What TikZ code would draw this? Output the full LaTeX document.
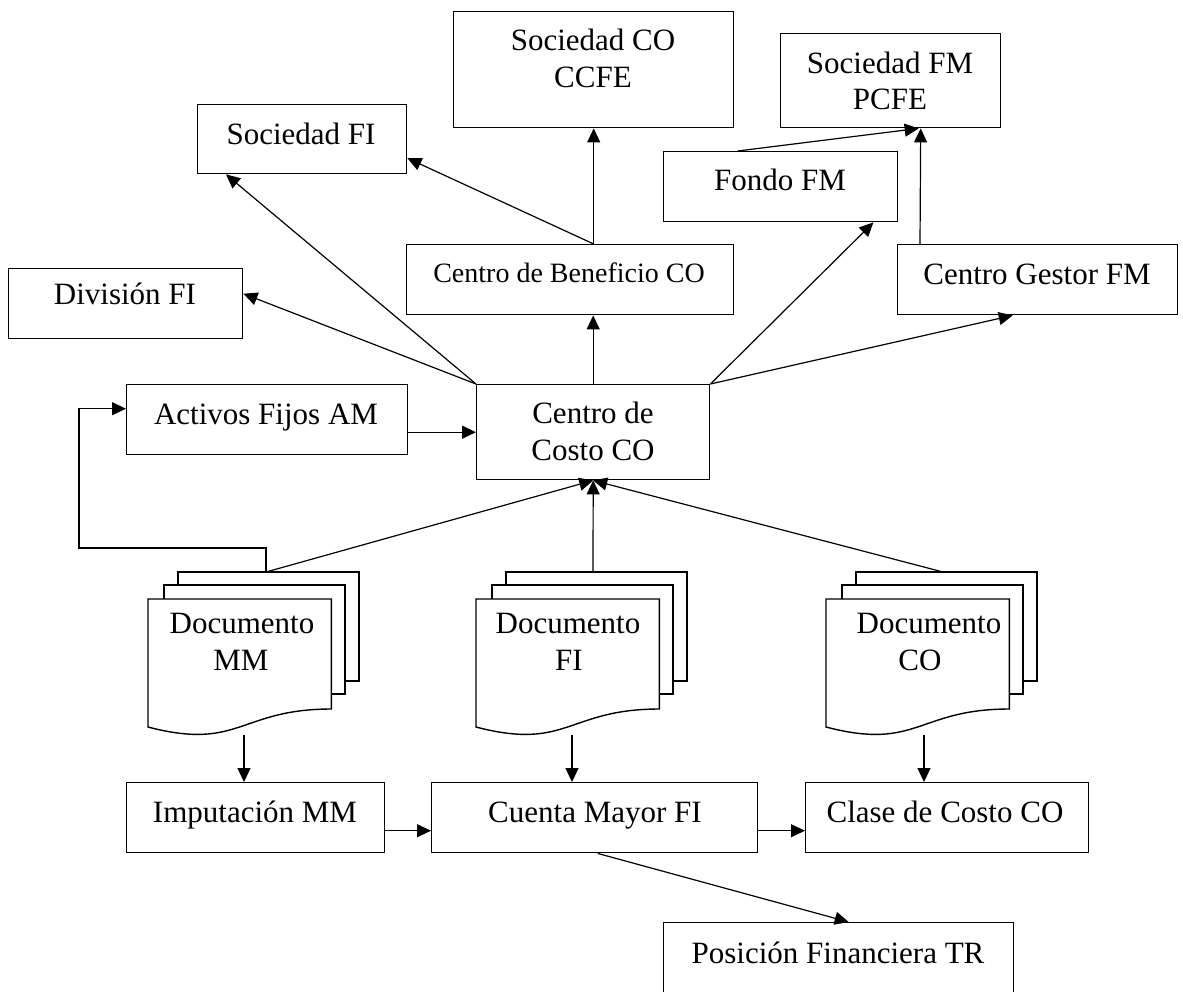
\documentclass[tikz,border=0pt]{standalone}
\usepackage{fontspec}
\setmainfont{Liberation Serif}
\usetikzlibrary{arrows.meta,calc}
\begin{document}
\begin{tikzpicture}[x=1pt,y=-1pt,
  box/.style={draw, line width=1.4pt, inner sep=0pt, anchor=north west, fill=white},
  docfront/.style={inner sep=0pt, anchor=north west, minimum width=183pt, minimum height=137pt},
  lbl/.style={font=\fontsize{31}{37}\selectfont, inner sep=0pt, anchor=base},
  lbls/.style={font=\fontsize{28}{34}\selectfont, inner sep=0pt, anchor=base},
  con/.style={line width=1.2pt, -{Triangle[length=14pt,width=13pt]}},
  page/.style={draw, line width=1.4pt, fill=white, line join=miter}]
\clip (0,0) rectangle (1183,991);
\useasboundingbox (0,0) rectangle (1183,991);

% boxes
\node[box, minimum width=280pt, minimum height=116pt] (socCO) at (453,11) {};
\node[box, minimum width=220pt, minimum height=94pt] (socFM) at (780,33) {};
\node[box, minimum width=209pt, minimum height=69pt] (socFI) at (197,104) {};
\node[box, minimum width=234pt, minimum height=70pt] (fondo) at (663,151) {};
\node[box, minimum width=327pt, minimum height=70pt] (cben) at (406,244) {};
\node[box, minimum width=280pt, minimum height=70pt] (cgest) at (897,244) {};
\node[box, minimum width=234pt, minimum height=70pt] (div) at (8,268) {};
\node[box, minimum width=281pt, minimum height=70pt] (act) at (126,384) {};
\node[box, minimum width=233pt, minimum height=95pt] (ccosto) at (476,384) {};
\node[box, minimum width=258pt, minimum height=70pt] (imp) at (126,782) {};
\node[box, minimum width=326pt, minimum height=70pt] (cuenta) at (431,782) {};
\node[box, minimum width=283pt, minimum height=70pt] (clase) at (805,782) {};
\node[box, minimum width=350pt, minimum height=100pt] (pos) at (663,922) {};

% documents
\node[docfront] (dMM) at (148,599) {};
\node[docfront] (dFI) at (476,599) {};
\node[docfront] (dCO) at (826,599) {};
\foreach \n in {dMM,dFI,dCO}{
  \draw[page] ($(\n.north west)+(30,-27)$) rectangle ($(\n.north west)+(211,82)$);
  \draw[page] ($(\n.north west)+(16,-14)$) rectangle ($(\n.north west)+(197,95)$);
  \draw[page] (\n.north west) -- (\n.north east) -- ($(\n.north east)+(0,110)$)
     .. controls ($(\n.north west)+(91.5,110)$) and ($(\n.north west)+(91.5,152)$) .. ($(\n.north west)+(0,128)$) -- cycle;
}
\coordinate (dMMtop) at ($(dMM.north west)+(118,-27)$);
\coordinate (dFItop) at ($(dFI.north west)+(117,-27)$);
\coordinate (dCOtop) at ($(dCO.north west)+(117,-27)$);
\coordinate (dMMbot) at ($(dMM.north west)+(96,136)$);
\coordinate (dFIbot) at ($(dFI.north west)+(96,136)$);
\coordinate (dCObot) at ($(dCO.north west)+(98,136)$);
\coordinate (cbtop) at (socCO.south |- cben.north);

% connectors
\draw[con] (cbtop) -- (socCO.south);
\draw[con] (cbtop) -- ($(socFI.east)+(0,19)$);
\draw[con] (ccosto.north) -- (ccosto.north |- cben.south);
\draw[con] (ccosto.north west) -- ($(div.east)+(0,-10)$);
\draw[con] (ccosto.north west) -- ($(socFI.south west)+(29,0)$);
\draw[con] (ccosto.north east) -- ($(fondo.south east)+(-25,0)$);
\draw[con] (ccosto.north east) -- ($(cgest.south)+(-25,0)$);
\draw[con] ($(fondo.north)+(-43,0)$) -- ($(socFM.south)+(28,0)$);
\draw[con] ($(cgest.north west)+(23,0)$) -- ($(socFM.south)+(30,0)$);
\draw[con] (act.east |- ccosto.west) -- (ccosto.west);
\draw[con] (dMMtop) -- (ccosto.south);
\draw[con] (dFItop) -- (ccosto.south);
\draw[con] (dCOtop) -- (ccosto.south);
\draw[con] (dMMtop) -- ++(0,-24) -| ($(act.west)+(-47,-11)$) -- ($(act.west)+(0,-11)$);
\draw[con] (dMMbot) -- (dMMbot |- imp.north);
\draw[con] (dFIbot) -- (dFIbot |- cuenta.north);
\draw[con] (dCObot) -- (dCObot |- clase.north);
\draw[con] ($(imp.east)+(0,13)$) -- ($(cuenta.west)+(0,13)$);
\draw[con] ($(cuenta.east)+(0,13)$) -- ($(clase.west)+(0,13)$);
\draw[con] ($(cuenta.south)+(3,0)$) -- ($(pos.north)+(10,0)$);

% texts
\node[lbl] (t1) at (593,50) {Sociedad CO};
\node[lbl] (t2) at (593,87) {CCFE};
\node[lbl] (t3) at (890,73) {Sociedad FM};
\node[lbl] (t4) at (890,109) {PCFE};
\node[lbl] (t5) at (301,144) {Sociedad FI};
\node[lbl] (t6) at (780,190) {Fondo FM};
\node[lbls] (t7) at (569,282) {Centro de Beneficio CO};
\node[lbl] (t8) at (1037,284) {Centro Gestor FM};
\node[lbl] (t9) at (125,304) {División FI};
\node[lbl] (t10) at (266,424) {Activos Fijos AM};
\node[lbl] (t11) at (593,423) {Centro de};
\node[lbl] (t12) at (593,460) {Costo CO};
\node[lbl] (t13) at (242,633) {Documento};
\node[lbl] (t14) at (241,670) {MM};
\node[lbl] (t15) at (568,633) {Documento};
\node[lbl] (t16) at (569,670) {FI};
\node[lbl] (t17) at (929,633) {Documento};
\node[lbl] (t18) at (920,670) {CO};
\node[lbl] (t19) at (255,822) {Imputación MM};
\node[lbl] (t20) at (595,822) {Cuenta Mayor FI};
\node[lbl] (t21) at (945,822) {Clase de Costo CO};
\node[lbl] (t22) at (838,963) {Posición Financiera TR};
\end{tikzpicture}
\end{document}
